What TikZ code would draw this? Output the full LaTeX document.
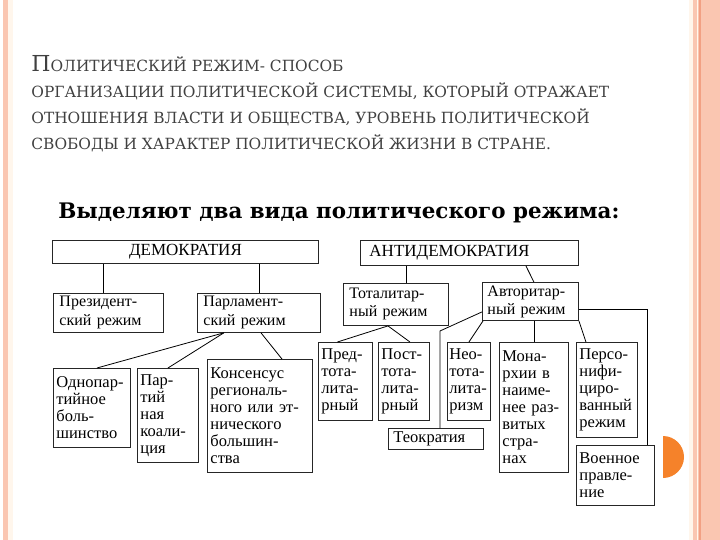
\documentclass[tikz,border=0pt]{standalone}
\usepackage{fontspec}
\setmainfont{Liberation Serif}
\newfontfamily\headfont{DejaVu Serif}
\usepackage{tikz}
\definecolor{salmon}{HTML}{FAC6B1}
\definecolor{cream}{HTML}{FFF6EC}
\definecolor{rust}{HTML}{F2A083}
\definecolor{dot}{HTML}{F5822A}
\definecolor{headgrey}{HTML}{404040}
\hyphenpenalty=10000
\exhyphenpenalty=10000
\tikzset{blk/.style={draw=black!85,line width=.9pt,anchor=north west,align=left,inner xsep=3pt,inner ysep=3pt,font=\fontsize{16.5}{17}\selectfont}}
\begin{document}
\begin{tikzpicture}[x=1pt,y=-1pt,line width=.8pt]
\useasboundingbox (0,0) rectangle (720,540);
\fill[salmon] (3,0) rectangle (8,540);\fill[cream] (8,0) rectangle (13,540);
\fill[salmon] (689,0) rectangle (720,540);\fill[cream] (689,0) rectangle (693,540);
\draw[cream,line width=1pt] (697.5,0)--(697.5,540);\draw[rust,line width=1.5pt] (700,0)--(700,540);
\begin{scope}\clip (663,430) rectangle (690,485);\fill[dot] (663,457) circle[radius=21];\end{scope}
\node[anchor=north west,align=left,inner sep=0,text=headgrey,font=\headfont\fontsize{15.4}{26}\selectfont] (defn) at (31,55)
 {{\fontsize{22}{26}\selectfont П}ОЛИТИЧЕСКИЙ РЕЖИМ- СПОСОБ\\
  ОРГАНИЗАЦИИ ПОЛИТИЧЕСКОЙ СИСТЕМЫ, КОТОРЫЙ ОТРАЖАЕТ\\
  ОТНОШЕНИЯ ВЛАСТИ И ОБЩЕСТВА, УРОВЕНЬ ПОЛИТИЧЕСКОЙ\\
  СВОБОДЫ И ХАРАКТЕР ПОЛИТИЧЕСКОЙ ЖИЗНИ В СТРАНЕ.};
\node[anchor=west,inner sep=0,font=\headfont\bfseries\fontsize{21.4}{26}\selectfont] (kinds) at (58,213) {Выделяют два вида политического режима:};
\node[blk,font=\fontsize{17}{19}\selectfont,align=center,text width=260pt,minimum height=23pt] (dem) at (52,240) {ДЕМОКРАТИЯ\hspace*{18pt}};
\node[blk,font=\fontsize{17}{19}\selectfont,inner xsep=9pt,text width=200pt,minimum height=25pt] (anti) at (360,240) {АНТИДЕМОКРАТИЯ};
\node[blk,font=\fontsize{16}{19}\selectfont,inner xsep=6pt,text width=98pt,minimum height=38pt] (pres) at (53,293) {Президент-\\ский режим};
\node[blk,font=\fontsize{16}{19}\selectfont,inner xsep=6pt,text width=111pt,minimum height=38pt] (parl) at (197,293) {Парламент-\\ский режим};
\node[blk,font=\fontsize{16}{18}\selectfont,inner xsep=6pt,text width=93pt,minimum height=42pt] (tot) at (343,283) {Тоталитар-\\ный режим};
\node[blk,font=\fontsize{16}{18}\selectfont,inner xsep=5pt,text width=86pt,minimum height=38pt] (avt) at (482,282) {Авторитар-\\ный режим};
\node[blk,text width=71pt,minimum height=79pt] (odno) at (53,368) {Однопар-\\тийное\\боль-\\шинство};
\node[blk,text width=55pt,minimum height=94pt] (koal) at (137,368) {Пар-\\тий\\ная\\коали-\\ция};
\node[blk,text width=99pt,minimum height=113pt] (kons) at (207,359) {Консенсус\\региональ-\\ного или эт-\\нического\\большин-\\ства};
\node[blk,text width=48pt,minimum height=78pt] (pred) at (318,342) {Пред-\\тота-\\лита-\\рный};
\node[blk,text width=45pt,minimum height=78pt] (post) at (378,342) {Пост-\\тота-\\лита-\\рный};
\node[blk,inner xsep=2pt,text width=39pt,minimum height=78pt] (neo) at (447,342) {Нео-\\тота-\\лита-\\ризм};
\node[blk,inner xsep=5pt,text width=85pt,minimum height=21pt] (teo) at (388,428) {Теократия};
\node[blk,text width=63pt,minimum height=130pt] (mon) at (499,342) {Мона-\\рхии в\\наиме-\\нее раз-\\витых\\стра-\\нах};
\node[blk,text width=55pt,minimum height=95pt] (pers) at (576,342) {Персо-\\нифи-\\циро-\\ванный\\режим};
\node[blk,text width=72pt,minimum height=60pt] (voen) at (576,445) {Военное\\правле-\\ние};
\draw ([xshift=-5]pres.north) -- ([xshift=-5]pres.north |- dem.south);\draw (parl.north) -- (parl.north |- dem.south);
\draw ([xshift=10]tot.north) -- ([xshift=10]tot.north |- anti.south);\draw ([xshift=-53]anti.south east) -- ([xshift=-45]avt.north east);
\draw ([yshift=-8]avt.east) -| ([xshift=-8]voen.north east);
\draw ([yshift=9]avt.south west) -- ([xshift=4,yshift=97]teo.north) -- ([xshift=4]teo.north);
\draw ([xshift=1]avt.south west) -- (neo.north);\draw (mon.north) -- (mon.north |- avt.south);\draw (avt.south east) -- ([xshift=-21]pers.north);
\draw ([xshift=-8]tot.south) -- ([xshift=-8]pred.north);\draw ([xshift=-8]tot.south) -- ([xshift=6]post.north);
\draw ([xshift=-35]parl.south) -- ([xshift=5]odno.north);\draw ([xshift=-35]parl.south) -- (koal.north);\draw ([xshift=2]parl.south) -- ([xshift=22]kons.north);
\end{tikzpicture}
\end{document}
